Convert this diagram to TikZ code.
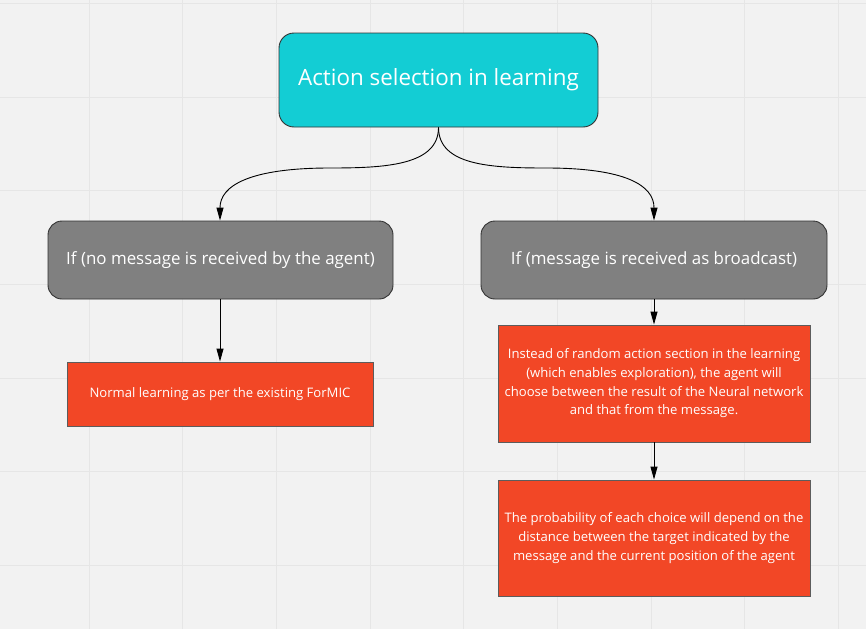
\documentclass[tikz,border=0pt]{standalone}
\usepackage{fontspec}
\setmainfont{Open Sans}
\usetikzlibrary{arrows.meta}
\definecolor{bg}{HTML}{F2F2F2}
\definecolor{gridc}{HTML}{E6E6E6}
\definecolor{topc}{HTML}{13CDD4}
\definecolor{greyc}{HTML}{808080}
\definecolor{redc}{HTML}{F24726}
\definecolor{edgec}{HTML}{333333}
\tikzset{
  base/.style={draw=edgec, line width=0.9pt, text=white, align=center, inner sep=0pt},
  topbox/.style={base, fill=topc, rounded corners=15pt, minimum width=319pt, minimum height=94pt, font=\fontsize{22.4}{27}\selectfont},
  greybox/.style={base, fill=greyc, rounded corners=14pt, minimum width=345pt, minimum height=78pt, font=\fontsize{16.9}{22}\selectfont},
  redbox/.style={base, draw=edgec!80, fill=redc, minimum width=312pt, font=\fontsize{13.1}{18.7}\selectfont},
  conn/.style={line width=0.9pt, draw=black, -{Triangle[length=13pt,width=7pt]}}
}
\begin{document}
\begin{tikzpicture}[x=1pt,y=-1pt]
\fill[bg] (0,0) rectangle (866,629);
\useasboundingbox (0,0) rectangle (866,629);
\foreach \k in {0,...,9} {
  \draw[gridc, line width=1pt] ({-4.7+93.7*\k},0) -- ({-4.7+93.7*\k},629);
}
\foreach \k in {0,...,6} {
  \draw[gridc, line width=1pt] (0,{3.3+93.7*\k}) -- (866,{3.3+93.7*\k});
}
\node[topbox] (top) at (438.5,80) {Action selection in learning};
\node[greybox] (ifno) at (220.5,260) {If (no message is received by the agent)};
\node[greybox, minimum width=346pt] (ifyes) at (654,260) {If (message is received as broadcast)};
\node[redbox, minimum width=306pt, minimum height=64pt] (normal) at (220,394) {Normal learning as per the existing ForMIC};
\node[redbox, minimum height=117pt] (instead) at (654,383.5) {Instead of random action section in the learning\\(which enables exploration), the agent will\\choose between the result of the Neural network\\and that from the message.};
\node[redbox, minimum height=116pt] (prob) at (654,538) {The probability of each choice will depend on the\\distance between the target indicated by the\\message and the current position of the agent};
\coordinate (lmid) at (330,168);
\coordinate (rmid) at (546,168);
\draw[conn] (top.south) .. controls +(0,38) and +(55,0) .. (lmid) .. controls +(-80,0) and +(0,-35) .. (ifno.north -| 220,0);
\draw[conn] (top.south) .. controls +(0,38) and +(-55,0) .. (rmid) .. controls +(80,0) and +(0,-35) .. (ifyes.north);
\draw[conn] (ifno.south -| normal.north) -- (normal.north);
\draw[conn] (ifyes.south) -- (instead.north);
\draw[conn] (instead.south) -- (prob.north);
\end{tikzpicture}
\end{document}
